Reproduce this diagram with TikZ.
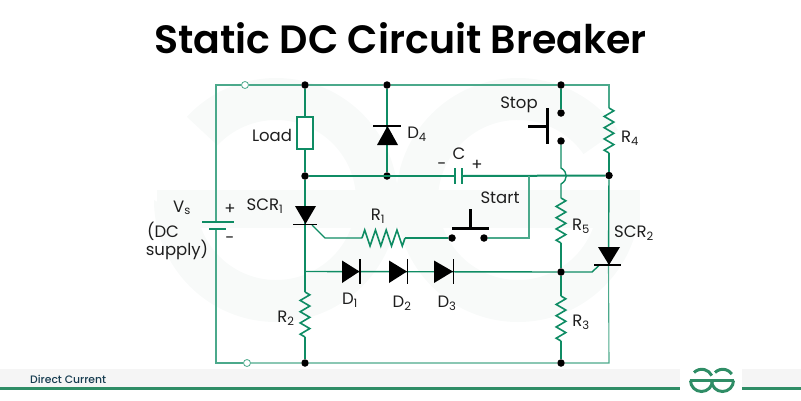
\documentclass[tikz,border=0pt]{standalone}
\usepackage{fontspec}
\setmainfont{Poppins}
\newfontfamily\titlefont{Poppins SemiBold}
\newfontfamily\footfont{Poppins Medium}
\usepackage{xcolor}
\usetikzlibrary{decorations.pathmorphing, positioning}
\definecolor{verde}{RGB}{15, 140, 100}
\definecolor{verdeOsc}{RGB}{47, 141, 102}
\definecolor{palido}{RGB}{248, 250, 249}
\definecolor{banda}{RGB}{245, 245, 245}
\definecolor{tinta}{RGB}{30, 30, 30}
\definecolor{azulOsc}{RGB}{22, 60, 80}
\tikzset{
    wire/.style={-, verde, line width=1.4pt},
    thin wire/.style={-, verde!75, line width=1.1pt},
    bus/.style={-, verde, line width=2pt},
    res/.style={-, verde, line width=1.6pt, decorate, decoration={zigzag, segment length=11.25pt, amplitude=4.8pt}},
    resTall/.style={res, decoration={zigzag, segment length=10.75pt, amplitude=8pt}},
    dot/.style={circle, fill=black, inner sep=0pt, minimum size=7.5pt},
    opendot/.style={circle, draw=verde!75, fill=white, line width=0.8pt, inner sep=0pt, minimum size=7pt},
    blackbar/.style={-, black, line width=1.6pt},
    push/.style={-, black, line width=3pt},
    lbl/.style={text=tinta, font=\fontsize{16.5}{18}\selectfont, inner sep=0pt},
}
\begin{document}
\begin{tikzpicture}[x=1pt, y=-1pt]
    \useasboundingbox (0,0) rectangle (801,400);

    % watermark
    \fill[palido] (154,200) arc[start angle=180, end angle=0, radius=122] -- (351,228) arc[start angle=20.5, end angle=159.5, radius=80] -- cycle;
    \fill[palido] (186.8,116.8) arc[start angle=223, end angle=360, radius=122] -- (356,200) arc[start angle=360, end angle=223, radius=80] -- cycle;
    \fill[palido] (396,200) arc[start angle=180, end angle=0, radius=122] -- (593,228) arc[start angle=20.5, end angle=159.5, radius=80] -- cycle;
    \fill[palido] (396,200) arc[start angle=180, end angle=325, radius=122] -- (583.5,154.1) arc[start angle=325, end angle=180, radius=80] -- cycle;
    \fill[palido] (157,190) rectangle (640,228);

    \node[font=\fontsize{39.5}{42}\titlefont, text=black, inner sep=0pt] (title) at (400.5,38) {Static DC Circuit Breaker};

    % footer
    \fill[banda] (0,369) rectangle (680,387);
    \fill[banda] (742,369) rectangle (801,387);
    \fill[verdeOsc] (0,387) rectangle (680,390);
    \fill[verdeOsc] (742,387) rectangle (801,390);
    \node[font=\fontsize{10.8}{12}\footfont, text=azulOsc, inner sep=0pt, anchor=west] (foot) at (30,379) {Direct Current};
    \draw[verdeOsc, line width=2.6pt] (689.5,380.5) -- (733.5,380.5);
    \draw[verdeOsc, line width=3pt] (690.5,380.5) arc[start angle=180, end angle=0, radius=11];
    \draw[verdeOsc, line width=3pt] (711.5,380.5) arc[start angle=180, end angle=0, radius=11];
    \draw[verdeOsc, line width=3pt] (694,372.5) arc[start angle=225, end angle=335, radius=11];
    \draw[verdeOsc, line width=3pt] (715,372.5) arc[start angle=225, end angle=325, radius=11];

    % points
    \node[opendot] (o1) at (245,85) {};
    \node[opendot] (o2) at (247,363) {};
    \node[dot] (a1) at (305,85) {};
    \node[dot] (a2) at (387,85) {};
    \node[dot] (a3) at (561,85) {};
    \node[dot] (b1) at (305,176) {};
    \node[dot] (b2) at (387,176) {};
    \node[dot] (b3) at (609,175.5) {};
    \node[dot] (c1) at (561,272) {};
    \node[dot] (e1) at (305,363) {};
    \node[dot] (e2) at (561,363) {};
    \node[dot] (st1) at (561,113) {};
    \node[dot] (st2) at (561,141) {};
    \node[dot] (sa1) at (452,238) {};
    \node[dot] (sa2) at (484,238) {};

    \coordinate (tl) at (216,85);
    \coordinate (tr) at (609,85);
    \coordinate (bl) at (216,363);
    \coordinate (br) at (609,363);
    \coordinate (bat1) at (216,222);
    \coordinate (bat2) at (216,229);
    \coordinate (scr1) at (305,224.5);
    \coordinate (scr2) at (608.5,265);
    \coordinate (g1a) at (312,225);
    \coordinate (g1b) at (325,238);
    \coordinate (r1a) at (362,238);
    \coordinate (r1b) at (405,238);
    \coordinate (r2a) at (305,292);
    \coordinate (r2b) at (305,337);
    \coordinate (r3a) at (561,296);
    \coordinate (r3b) at (561,341);
    \coordinate (r4a) at (609,108);
    \coordinate (r4b) at (609,153);
    \coordinate (r5a) at (561,198);
    \coordinate (r5b) at (561,243);
    \coordinate (dd) at (305,271.5);
    \coordinate (sw) at (529,238);
    \coordinate (sn) at (529,176);
    \coordinate (c1a) at (455,176);
    \coordinate (c1b) at (462,176);
    \coordinate (j1) at (561,168);
    \coordinate (j2) at (561,184);
    \coordinate (g2a) at (599,265.5);
    \coordinate (g2b) at (592,272);

    % frame
    \draw[thin wire] (bat1) -- (tl) -- (o1);
    \draw[thin wire] (o1) -- (a1) -- (a2) -- (a3) -- (tr) -- (r4a);
    \draw[thin wire] (bat2) -- (bl) -- (o2);
    \draw[thin wire] (o2) -- (e1) -- (e2) -- (br) -- (scr2);

    % branches
    \draw[wire] (a1) -- (b1);
    \draw[wire] (a2) -- (b2);
    \draw[wire] (a3) -- (st1);
    \draw[wire] (b1) -- (scr1) -- (r2a);
    \draw[wire] (r2b) -- (e1);
    \draw[wire] (b3) -- (scr2);
    \draw[wire] (r4b) -- (b3);
    \draw[wire] (st2) -- (j1) .. controls (568,172) and (568,180) .. (j2) -- (r5a);
    \draw[wire] (r5b) -- (c1) -- (r3a);
    \draw[wire] (r3b) -- (e2);
    \draw[bus] (b1) -- (c1a);
    \draw[bus] (c1b) -- (b3);
    \draw[wire] (dd) -- (c1) -- (g2b) -- (g2a);
    \draw[wire] (g1a) -- (g1b) -- (r1a);
    \draw[wire] (r1b) -- (sa1);
    \draw[thin wire] (sa2) -- (sw) -- (sn);

    % resistors
    \draw[resTall] (r1a) -- (r1b);
    \draw[res] (r2a) -- (r2b);
    \draw[res] (r3a) -- (r3b);
    \draw[res] (r4a) -- (r4b);
    \draw[res] (r5a) -- (r5b);

    % load
    \node[draw=verde, fill=white, line width=1.5pt, minimum width=16pt, minimum height=32pt, inner sep=0pt] (load) at (305,133) {};

    % battery
    \draw[wire] (202,222) -- (234,222);
    \draw[wire] (209,229) -- (226,229);

    % capacitor
    \draw[wire] (455,168) -- (455,184);
    \draw[wire] (462,168) -- (462,184);

    % thyristors and diodes
    \fill (295,206) -- (316,206) -- (305.5,224) -- cycle;
    \draw[blackbar] (293,224.5) -- (317,224.5);
    \fill (598,247) -- (620,247) -- (609,265) -- cycle;
    \draw[blackbar] (594,265) -- (621,265);
    \fill (377,145) -- (398,145) -- (387.5,126) -- cycle;
    \draw[blackbar] (373,126) -- (401,126);
    \foreach \dx/\dy in {342/359.5, 389/407, 434/453} {
        \fill (\dx,260.5) -- (\dy,271.5) -- (\dx,283) -- cycle;
        \draw[blackbar] (\dy+0.5,259) -- (\dy+0.5,284);
    }

    % switches
    \draw[push] (547,108) -- (547,144);
    \draw[push] (528,126) -- (547,126);
    \draw[push] (452,228) -- (489,228);
    \draw[push] (470,209) -- (470,228);

    % labels
    \node[lbl] (lLoad) at (272,135) {Load};
    \node[lbl] (lD4) at (417,134) {D\textsubscript{4}};
    \node[lbl] (lVs) at (182,208) {V\textsubscript{s}};
    \node[lbl] (lPlus) at (230,209) {+};
    \node[lbl] (lMinus) at (230,240) {-};
    \node[lbl] (lDC) at (163,231) {(DC};
    \node[lbl] (lSup) at (177,250) {supply)};
    \node[lbl] (lSCRa) at (265,206) {SCR\textsubscript{1}};
    \node[lbl] (lR1) at (378,216) {R\textsubscript{1}};
    \node[lbl] (lC) at (459,154) {C};
    \node[lbl] (lCm) at (442,166) {-};
    \node[lbl] (lCp) at (477,165) {+};
    \node[lbl] (lStart) at (500,198) {Start};
    \node[lbl] (lStop) at (519,105) {Stop};
    \node[lbl] (lR4) at (630,138) {R\textsubscript{4}};
    \node[lbl] (lR5) at (581,226) {R\textsubscript{5}};
    \node[lbl] (lSCRb) at (634,233) {SCR\textsubscript{2}};
    \node[lbl] (lD1) at (350,300) {D\textsubscript{1}};
    \node[lbl] (lD2) at (402,303) {D\textsubscript{2}};
    \node[lbl] (lD3) at (447,303) {D\textsubscript{3}};
    \node[lbl] (lR2) at (286,318) {R\textsubscript{2}};
    \node[lbl] (lR3) at (581,322) {R\textsubscript{3}};
\end{tikzpicture}
\end{document}
